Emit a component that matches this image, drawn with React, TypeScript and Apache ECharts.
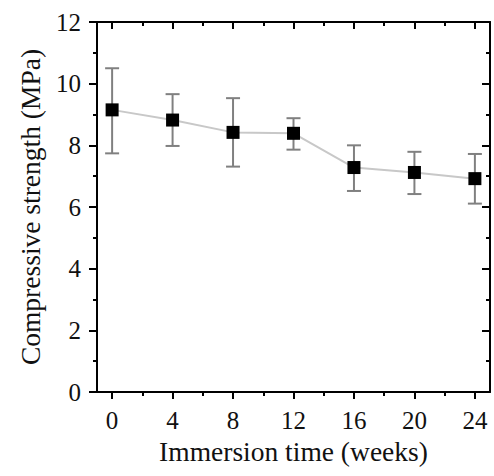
import React, { useEffect, useRef } from "react";
import * as echarts from "echarts";

const weeks = [0, 4, 8, 12, 16, 20, 24];
const strength = [9.15, 8.82, 8.42, 8.39, 7.28, 7.12, 6.92];
const upper = [10.5, 9.66, 9.53, 8.88, 8.0, 7.79, 7.72];
const lower = [7.74, 7.98, 7.31, 7.86, 6.52, 6.42, 6.11];
const xMajorTicks = [0, 4, 8, 12, 16, 20, 24];
const xMinorTicks = [2, 6, 10, 14, 18, 22];

const FONT = "Liberation Serif";
const AX = "#000";

export default function App() {
  const ref = useRef<HTMLDivElement>(null);
  useEffect(() => {
    const chart = echarts.init(ref.current!, null, { renderer: "svg" });
    const baseX = { type: "value", min: -1, max: 25, splitLine: { show: false } };
    const option: any = {
      animation: false,
      backgroundColor: "#fff",
      grid: { left: 97, right: 4, top: 22, bottom: 84, containLabel: false },
      xAxis: [
        {
          ...baseX,
          position: "bottom",
          name: "Immersion time (weeks)",
          nameLocation: "middle",
          nameGap: 45,
          nameTextStyle: { fontFamily: FONT, fontSize: 27.5, color: "#111" },
          axisLine: { show: true, onZero: false, lineStyle: { color: AX, width: 2 } },
          axisTick: { show: true, customValues: xMajorTicks, length: 7, inside: false, lineStyle: { color: AX, width: 2 } },
          axisLabel: { customValues: xMajorTicks, fontFamily: FONT, fontSize: 25, color: "#111", margin: 16 },
        },
        {
          ...baseX,
          position: "bottom",
          axisLine: { show: false, onZero: false },
          axisTick: { show: true, customValues: xMinorTicks, length: 4, lineStyle: { color: AX, width: 2 } },
          axisLabel: { show: false },
        },
        {
          ...baseX,
          position: "top",
          axisLine: { show: true, onZero: false, lineStyle: { color: AX, width: 2 } },
          axisTick: { show: true, customValues: xMajorTicks, length: 7, inside: true, lineStyle: { color: AX, width: 2 } },
          axisLabel: { show: false },
        },
        {
          ...baseX,
          position: "top",
          axisLine: { show: false, onZero: false },
          axisTick: { show: true, customValues: xMinorTicks, length: 4, inside: true, lineStyle: { color: AX, width: 2 } },
          axisLabel: { show: false },
        },
      ],
      yAxis: [
        {
          type: "value",
          position: "left",
          min: 0,
          max: 12,
          interval: 2,
          name: "Compressive strength (MPa)",
          nameLocation: "middle",
          nameGap: 53,
          nameTextStyle: { fontFamily: FONT, fontSize: 27.5, color: "#111" },
          splitLine: { show: false },
          axisLine: { show: true, onZero: false, lineStyle: { color: AX, width: 2 } },
          axisTick: { show: true, length: 8, lineStyle: { color: AX, width: 2 } },
          minorTick: { show: true, splitNumber: 2, length: 4, lineStyle: { color: AX, width: 2 } },
          axisLabel: { fontFamily: FONT, fontSize: 25, color: "#111", margin: 16 },
        },
        {
          type: "value",
          position: "right",
          min: 0,
          max: 12,
          interval: 2,
          splitLine: { show: false },
          axisLine: { show: true, onZero: false, lineStyle: { color: AX, width: 2 } },
          axisTick: { show: true, inside: true, length: 8, lineStyle: { color: AX, width: 2 } },
          minorTick: { show: true, splitNumber: 2, length: 4, lineStyle: { color: AX, width: 2 } },
          axisLabel: { show: false },
        },
      ],
      series: [
        {
          type: "custom",
          xAxisIndex: 0,
          yAxisIndex: 0,
          z: 2,
          data: weeks.map((w, i) => [w, lower[i], upper[i]]),
          encode: { x: 0, y: [1, 2] },
          renderItem: (params: any, api: any) => {
            const x = api.value(0);
            const pLo = api.coord([x, api.value(1)]);
            const pHi = api.coord([x, api.value(2)]);
            const hw = 7;
            const style = { stroke: "#808080", lineWidth: 2 };
            return {
              type: "group",
              children: [
                { type: "line", shape: { x1: pHi[0], y1: pHi[1], x2: pLo[0], y2: pLo[1] }, style },
                { type: "line", shape: { x1: pHi[0] - hw, y1: pHi[1], x2: pHi[0] + hw, y2: pHi[1] }, style },
                { type: "line", shape: { x1: pLo[0] - hw, y1: pLo[1], x2: pLo[0] + hw, y2: pLo[1] }, style },
              ],
            };
          },
        },
        {
          type: "line",
          xAxisIndex: 0,
          yAxisIndex: 0,
          z: 3,
          data: weeks.map((w, i) => [w, strength[i]]),
          symbol: "rect",
          symbolSize: 13,
          itemStyle: { color: "#000" },
          lineStyle: { color: "#c8c8c8", width: 2 },
        },
      ],
    };
    chart.setOption(option);
    return () => chart.dispose();
  }, []);
  return <div ref={ref} style={{ position: "fixed", left: 0, top: 0, width: 494, height: 476 }} />;
}
